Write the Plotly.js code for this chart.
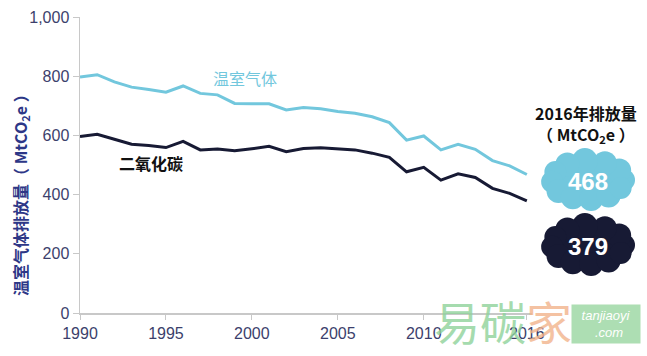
<!DOCTYPE html>
<html>
<head>
<meta charset="utf-8">
<script src="https://cdn.plot.ly/plotly-3.0.1.min.js"></script>
<style>html,body{margin:0;padding:0;background:#fff;}#chart{width:647px;height:356px;}</style>
</head>
<body>
<div id="chart"></div>
<script>
const years = [1990,1991,1992,1993,1994,1995,1996,1997,1998,1999,2000,2001,2002,2003,2004,2005,2006,2007,2008,2009,2010,2011,2012,2013,2014,2015,2016];
const ghg = [797,805,781,763,755,746,767,742,737,708,707,707,686,694,690,681,675,663,643,584,598,551,570,553,515,497,468];
const co2 = [596,604,587,570,566,559,580,551,554,548,555,563,545,556,558,554,551,540,526,477,492,449,470,458,421,404,379];
const xTicks = [1990,1995,2000,2005,2010,2016];
const yTicks = [0,200,400,600,800,1000];
const yTickText = ['0','200','400','600','800','1,000'];
const ghgName = '温室气体';
const co2Name = '二氧化碳';
const ghgColor = '#72c7dd';
const co2Color = '#171a34';

// cloud built from an ellipse plus bumps around its rim (pixel sizes)
function cloud(cx, cy, color){
  const a = 36, b = 19;
  const bumps = [[0,11],[30,12],[62,12],[95,13],[125,12],[155,11],[185,11],[215,12],[245,12],[275,12],[305,12],[335,11]];
  const shapes = [{type:'circle', xref:'paper', yref:'paper', xsizemode:'pixel', ysizemode:'pixel',
    xanchor:cx, yanchor:cy, x0:-a-2, x1:a+2, y0:-b-2, y1:b+2, fillcolor:color, line:{width:0}, layer:'above'}];
  bumps.forEach(bm => {
    const t = bm[0]*Math.PI/180, r = bm[1];
    const ox = a*Math.cos(t), oy = b*Math.sin(t);
    shapes.push({type:'circle', xref:'paper', yref:'paper', xsizemode:'pixel', ysizemode:'pixel',
      xanchor:cx, yanchor:cy, x0:ox-r, x1:ox+r, y0:oy-r, y1:oy+r, fillcolor:color, line:{width:0}, layer:'above'});
  });
  return shapes;
}
// paper coords: plot x 80..532, y 17..313
const px = x => (x-80)/452;
const py = y => (313-y)/296;
const ann = (x, y, text, font, extra) => Object.assign({x:px(x), y:py(y), xref:'paper', yref:'paper', text:text,
  showarrow:false, xanchor:'center', yanchor:'middle', font:font}, extra||{});

const data = [
  {x: years, y: ghg, type:'scatter', mode:'lines', line:{color:ghgColor, width:3}, hoverinfo:'skip'},
  {x: years, y: co2, type:'scatter', mode:'lines', line:{color:co2Color, width:3}, hoverinfo:'skip'}
];
const layout = {
  width:647, height:356,
  margin:{l:80, r:115, t:17, b:43},
  paper_bgcolor:'#fff', plot_bgcolor:'#fff',
  showlegend:false,
  font:{family:'Liberation Sans, Arial, sans-serif'},
  xaxis:{range:[1990,2016.3], tickvals:xTicks, ticktext:xTicks.map(String), showgrid:false, zeroline:false,
    showline:true, linecolor:'#c8c8c8', linewidth:1.5, ticks:'outside', ticklen:5, tickcolor:'#c8c8c8',
    tickfont:{size:16, color:'#3c3f6c'}},
  yaxis:{range:[0,1000], tickvals:yTicks, ticktext:yTickText, showgrid:false, zeroline:false,
    showline:true, linecolor:'#c8c8c8', linewidth:1.5, ticks:'outside', ticklen:6, tickcolor:'#c8c8c8',
    tickfont:{size:16, color:'#3c3f6c'}},
  shapes: [].concat(cloud(px(588), py(180), ghgColor), cloud(px(588), py(245), co2Color)),
  annotations:[
    ann(20, 191, '<b>温室气体排放量（ MtCO<sub>2</sub>e ）</b>', {size:16, color:'#2d3787', family:'Noto Sans CJK SC'}, {textangle:-90}),
    {x:1999.6, y:794, xref:'x', yref:'y', text:ghgName, showarrow:false, xanchor:'center', yanchor:'middle', font:{size:16, color:ghgColor, family:'Noto Sans CJK SC'}},
    {x:1994.14, y:507, xref:'x', yref:'y', text:'<b>'+co2Name+'</b>', showarrow:false, xanchor:'center', yanchor:'middle', font:{size:16, color:'#111', family:'Noto Sans CJK SC'}},
    ann(586, 113, '<b>2016年排放量</b>', {size:16, color:'#111', family:'Noto Sans CJK SC'}),
    ann(586, 134, '<b>（ MtCO<sub>2</sub>e ）</b>', {size:16, color:'#111', family:'Noto Sans CJK SC'}),
    ann(588, 181, '<b>'+ghg[ghg.length-1]+'</b>', {size:24, color:'#fff', family:'Liberation Sans'}),
    ann(588, 246, '<b>'+co2[co2.length-1]+'</b>', {size:24, color:'#fff', family:'Liberation Sans'}),
    ann(503, 320, '<span style="color:#8fd39a">易碳</span><span style="color:#f2b48c">家</span>', {size:46, family:'Noto Sans CJK SC'}, {opacity:0.8}),
    ann(606, 324, '<i>tanjiaoyi</i><br><i>  .com</i>', {size:13, color:'#fff'}, {bgcolor:'#9fd9a6', opacity:0.85, borderpad:2, width:64, height:34})
  ]
};
Plotly.newPlot('chart', data, layout, {staticPlot:true});
</script>
</body>
</html>
